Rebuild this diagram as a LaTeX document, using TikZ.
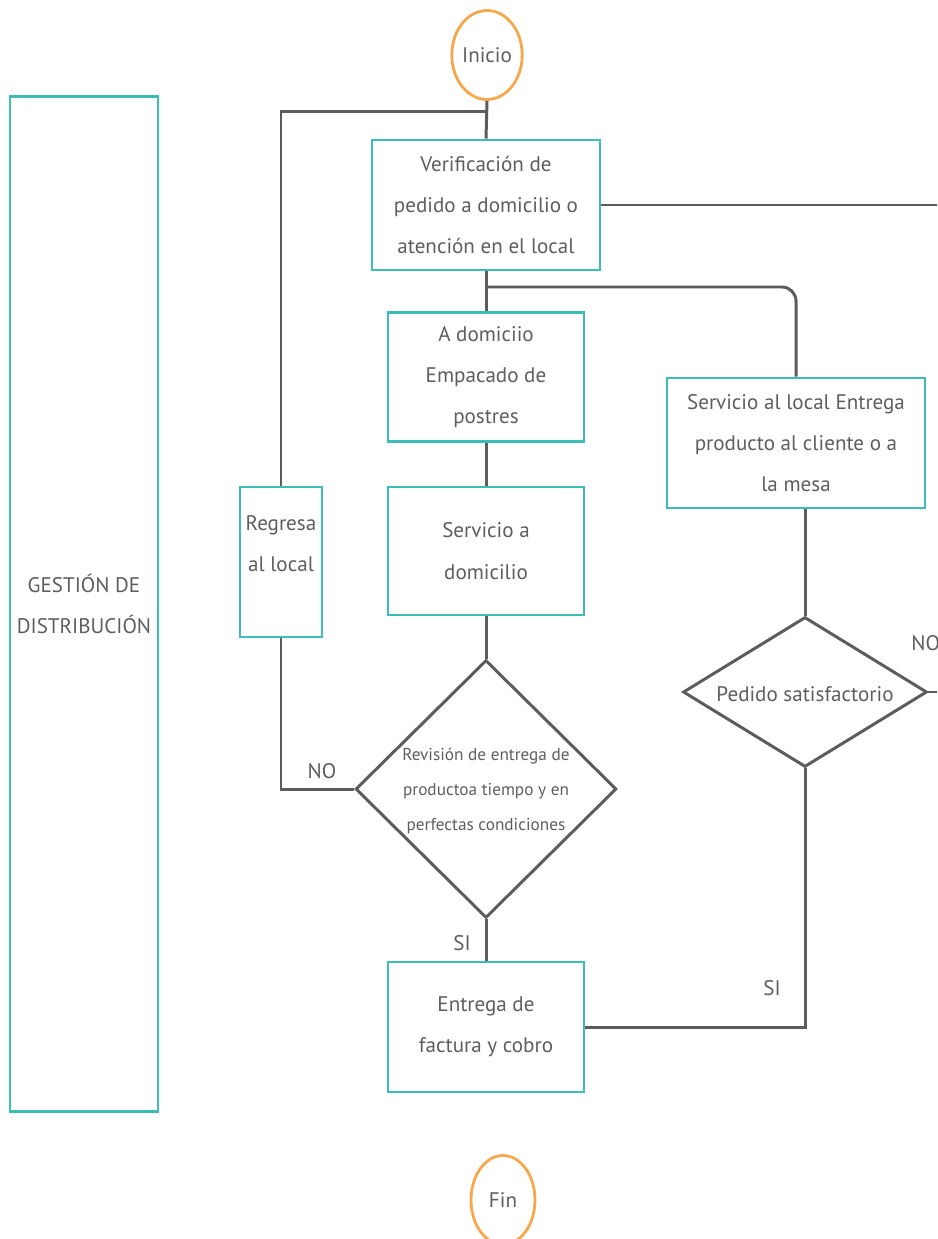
\documentclass[tikz,border=0pt]{standalone}
\usepackage{fontspec}
\setmainfont{PT Sans}
\usepackage{tikz}
\usetikzlibrary{shapes.geometric}

\definecolor{marco}{HTML}{3CBDB7}
\definecolor{naranja}{HTML}{F6A84C}
\definecolor{linea}{HTML}{5C5C5C}
\definecolor{letra}{HTML}{5E5E5E}

\begin{document}
\begin{tikzpicture}[x=0.02cm, y=-0.02cm,
    caja/.style={draw=marco, line width=1.6pt, rectangle, inner sep=0pt, align=center,
      text=letra, font=\fontsize{12}{23.5}\selectfont},
    rombo/.style={draw=linea, line width=1.7pt, diamond, inner sep=0pt},
    extremo/.style={draw=naranja, line width=1.6pt, ellipse, inner sep=0pt, text=letra,
      font=\fontsize{12}{14}\selectfont},
    flujo/.style={draw=linea, line width=1.7pt},
    rotulo/.style={text=letra, font=\fontsize{12}{14}\selectfont, inner sep=0pt}]
    \useasboundingbox (0,0) rectangle (937,1239);
    \clip (0,0) rectangle (937,1239);

    % inicio y fin
    \node[extremo, minimum width=64*0.02cm, minimum height=89*0.02cm] (inicio) at (487,55) {Inicio};
    \node[extremo, minimum width=64*0.02cm, minimum height=89*0.02cm] (fin) at (503,1200) {Fin};

    % cajas
    \node[caja, minimum width=4.56cm, minimum height=2.6cm] (verif) at (486,205)
      {Verificación de\\ pedido a domicilio o\\ atención en el local};
    \node[caja, minimum width=3.92cm, minimum height=2.58cm] (dom) at (486,377)
      {A domiciio\\ Empacado de\\ postres};
    \node[caja, minimum width=3.92cm, minimum height=2.56cm] (serv) at (486,551)
      {Servicio a\\ domicilio};
    \node[caja, minimum width=1.64cm, minimum height=3.0cm] (regresa) at (281,562) {};
    \node[rotulo, align=center, font=\fontsize{12}{23.5}\selectfont] (regresat) at (281,544)
      {Regresa\\ al local};
    \node[caja, minimum width=5.16cm, minimum height=2.6cm] (local) at (796,443)
      {Servicio al local Entrega\\ producto al cliente o a\\ la mesa};
    \node[caja, minimum width=3.92cm, minimum height=2.6cm] (entrega) at (486,1027)
      {Entrega de\\ factura y cobro};
    \node[caja, minimum width=2.96cm, minimum height=20.3cm] (gestion) at (84,604)
      {GESTIÓN DE\\ DISTRIBUCIÓN};

    % decisiones
    \node[rombo, minimum width=5.22cm, minimum height=5.16cm] (rev) at (486,789) {};
    \node[rotulo, align=center, font=\fontsize{9.8}{20}\selectfont] (revt) at (486,791)
      {Revisión de entrega de\\ productoa tiempo y en\\ perfectas condiciones};
    \node[rombo, minimum width=4.88cm, minimum height=3.0cm] (sat) at (805,692) {};
    \node[rotulo] (satt) at (805,694) {Pedido satisfactorio};

    % conectores
    \coordinate (ja) at (486,112);
    \coordinate (jb) at (486,287);
    \coordinate (sa) at (945,207);
    \coordinate (sb) at (945,692);
    \draw[flujo] (inicio.south) -- (verif.north);
    \draw[flujo] (regresa.north) |- (ja);
    \draw[flujo] (verif.east) -- (verif.east -| sa);
    \draw[flujo] (verif.south) -- (dom.north);
    \draw[flujo, rounded corners=8pt] (jb) -| (local.north);
    \draw[flujo] (dom.south) -- (serv.north);
    \draw[flujo] (serv.south) -- (rev.north);
    \draw[flujo] (rev.west) -| (regresa.south);
    \draw[flujo] (rev.south) -- (entrega.north);
    \draw[flujo] (entrega.east) -| (sat.south);
    \draw[flujo] (local.south -| sat.north) -- (sat.north);
    \draw[flujo] (sat.east) -- (sb);

    % etiquetas
    \node[rotulo] (no1) at (322,771) {NO};
    \node[rotulo] (si1) at (462,943) {SI};
    \node[rotulo] (si2) at (772,988) {SI};
    \node[rotulo, anchor=west] (no2) at (911,643) {NO};
\end{tikzpicture}
\end{document}
